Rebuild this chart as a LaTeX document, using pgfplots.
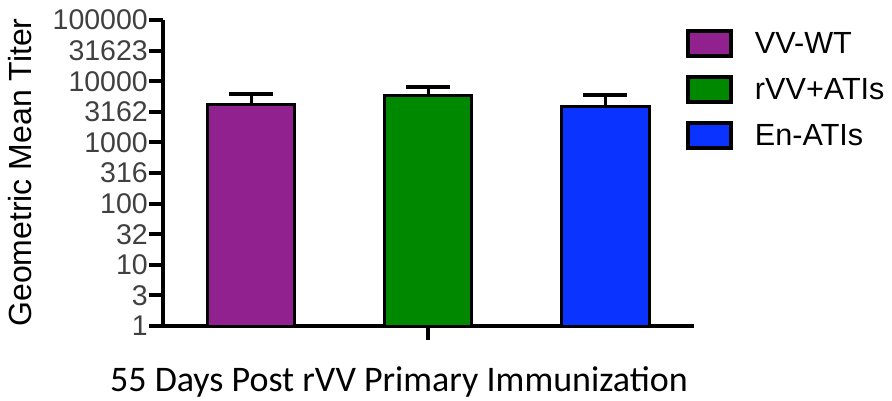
\documentclass[border=0pt]{standalone}
\usepackage{fontspec}
\setmainfont{Liberation Sans}
\newfontfamily\carlito{Carlito}
\usepackage{pgfplots}
\pgfplotsset{compat=1.18}
\definecolor{cPurple}{RGB}{146,33,144}
\definecolor{cGreen}{RGB}{0,136,0}
\definecolor{cBlue}{RGB}{10,51,255}
\definecolor{tickgray}{RGB}{64,64,64}
\begin{document}
\begin{tikzpicture}
\begin{axis}[
  name=ax,
  scale only axis,
  width=531pt, height=306pt,
  ymode=log, ymin=1, ymax=100000,
  xmin=-0.5, xmax=2.5,
  axis x line*=bottom, axis y line*=left,
  axis line style={line width=4.5pt},
  tick align=outside,
  major tick length=14pt,
  every tick/.style={black, line width=4pt},
  xtick={1}, xticklabels={},
  ytick={1,3.16228,10,31.6228,100,316.228,1000,3162.28,10000,31622.8,100000},
  yticklabels={1,3,10,32,100,316,1000,3162,10000,31623,100000},
  minor ytick={},
  yticklabel style={font=\fontsize{28.5}{30}\selectfont, text=tickgray, inner sep=1pt},
  ylabel={Geometric Mean Titer},
  ylabel style={font=\fontsize{32}{34}\selectfont, at={(axis description cs:-0.2467,0.5016)}, anchor=base, rotate=0, inner sep=0pt},
  xlabel={55 Days Post rVV Primary Immunization},
  xlabel style={font=\carlito\fontsize{36}{38}\selectfont, at={(axis description cs:0.4444,-0.2125)}, anchor=base, inner sep=0pt},
  ybar, bar width=87pt,
  clip=false,
  legend cell align=left,
  legend image code/.code={\draw[line width=4pt, #1, draw=black] (2pt,-12.5pt) rectangle (45pt,12.5pt);},
  legend style={draw=none, fill=none, inner sep=0pt, outer sep=0pt, row sep=17pt, column sep=22pt,
    at={(axis description cs:0.98493,0.97059)}, anchor=north west,
    font=\fontsize{30.6}{32}\selectfont, nodes={inner sep=0pt}},
]
\addplot[fill=cPurple, draw=black, line width=3pt, bar shift=0pt,
  error bars/.cd, y dir=plus, y explicit,
  error bar style={line width=3pt, black},
  error mark options={rotate=90, mark size=22pt, line width=4pt, black}]
  coordinates {(0,4085) +- (0,2095)};
\addplot[fill=cGreen, draw=black, line width=3pt, bar shift=0pt,
  error bars/.cd, y dir=plus, y explicit,
  error bar style={line width=3pt, black},
  error mark options={rotate=90, mark size=22pt, line width=4pt, black}]
  coordinates {(1,5770) +- (0,2330)};
\addplot[fill=cBlue, draw=black, line width=3pt, bar shift=0pt,
  error bars/.cd, y dir=plus, y explicit,
  error bar style={line width=3pt, black},
  error mark options={rotate=90, mark size=22pt, line width=4pt, black}]
  coordinates {(2,3860) +- (0,2090)};
\legend{VV-WT, rVV+ATIs, En-ATIs}
\end{axis}
\pgfresetboundingbox
\path ([shift={(-163pt,-74pt)}]ax.south west) rectangle ([shift={(729pt,326pt)}]ax.south west);
\end{tikzpicture}
\end{document}
